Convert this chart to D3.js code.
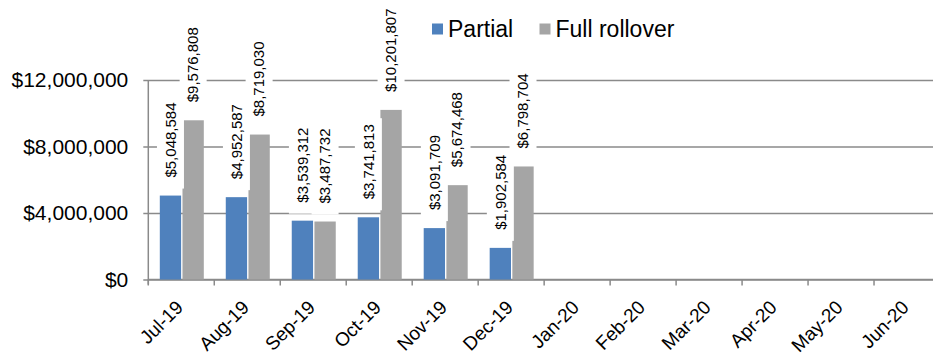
<!DOCTYPE html>
<html>
<head>
<meta charset="utf-8">
<script src="https://cdn.jsdelivr.net/npm/d3@7"></script>
<style>
  html, body { margin: 0; padding: 0; background: #fff; }
  svg { display: block; font-family: "Liberation Sans", Arial, sans-serif; }
</style>
</head>
<body>
<svg id="chart" width="933" height="357"></svg>
<script>
// Monthly rollover amounts, FY Jul-19 to Jun-20
const months = ["Jul-19", "Aug-19", "Sep-19", "Oct-19", "Nov-19", "Dec-19",
                "Jan-20", "Feb-20", "Mar-20", "Apr-20", "May-20", "Jun-20"];
const seriesNames = ["Partial", "Full rollover"];
const partial = [5048584, 4952587, 3539312, 3741813, 3091709, 1902584,
                 null, null, null, null, null, null];
const fullRollover = [9576808, 8719030, 3487732, 10201807, 5674468, 6798704,
                      null, null, null, null, null, null];
const yTicks = [0, 4000000, 8000000, 12000000];
const colors = ["#4F81BD", "#A5A5A5"];

const svg = d3.select("#chart");
const plot = { left: 148.3, right: 940, top: 80, bottom: 279.5 };

const x0 = d3.scaleBand().domain(months).range([plot.left, plot.right]).padding(0);
const x1 = d3.scaleBand().domain(seriesNames).range([11.5, 55.5]).paddingInner(0.06);
const y = d3.scaleLinear().domain([0, 12000000]).range([plot.bottom, plot.top]);

const money = v => "$" + d3.format(",")(v);
const gridColor = "#8a8a8a";

// Horizontal gridlines with short outside tick marks
const yAxis = d3.axisLeft(y).tickValues(yTicks).tickFormat(money)
  .tickSize(-(plot.right - plot.left)).tickPadding(20);
const gy = svg.append("g").attr("transform", `translate(${plot.left},0)`).call(yAxis);
gy.select(".domain").remove();
gy.selectAll(".tick line").attr("stroke", gridColor).attr("stroke-width", 1.5)
  .attr("x1", -5);
gy.selectAll(".tick text").attr("font-size", 21).attr("fill", "#000")
  .attr("font-family", "Liberation Sans, Arial, sans-serif");

// Vertical axis line
svg.append("line")
  .attr("x1", plot.left).attr("x2", plot.left)
  .attr("y1", plot.top).attr("y2", plot.bottom + 5)
  .attr("stroke", gridColor).attr("stroke-width", 1.5);

// Category axis: tick marks at band edges
const gx = svg.append("g").attr("transform", `translate(0,${plot.bottom})`);
months.forEach(m => {
  gx.append("line")
    .attr("x1", x0(m)).attr("x2", x0(m))
    .attr("y1", 0).attr("y2", 6)
    .attr("stroke", gridColor).attr("stroke-width", 1.5);
});
gx.append("line")
  .attr("x1", plot.left).attr("x2", plot.right)
  .attr("y1", 0).attr("y2", 0)
  .attr("stroke", gridColor).attr("stroke-width", 1.5);

svg.append("g").selectAll("text").data(months).join("text")
  .attr("transform", d => `translate(${x0(d) + x0.bandwidth() / 2 + 3},${plot.bottom + 29}) rotate(-45)`)
  .attr("text-anchor", "end")
  .attr("font-size", 19)
  .attr("fill", "#000")
  .text(d => d);

// Bars
const rows = months.map((m, i) => ({ month: m, values: [partial[i], fullRollover[i]] }));
const groups = svg.append("g").selectAll("g").data(rows).join("g")
  .attr("transform", d => `translate(${x0(d.month)},0)`);

groups.selectAll("rect")
  .data(d => d.values.map((v, k) => ({ name: seriesNames[k], value: v, k }))
    .filter(e => e.value != null))
  .join("rect")
  .attr("x", d => x1(d.name))
  .attr("width", x1.bandwidth())
  .attr("y", d => y(d.value))
  .attr("height", d => y(0) - y(d.value))
  .attr("fill", d => colors[d.k]);

// Value labels, rotated, on white boxes
const labels = svg.append("g");
rows.forEach(r => {
  r.values.forEach((v, k) => {
    if (v == null) return;
    const cx = x0(r.month) + x1(seriesNames[k]) + x1.bandwidth() / 2;
    const top = y(v);
    const g = labels.append("g")
      .attr("transform", `translate(${cx},${top - 18}) rotate(-90)`);
    const t = g.append("text")
      .attr("x", 0).attr("y", 0).attr("dy", "0.35em")
      .attr("text-anchor", "start")
      .attr("font-size", 15)
      .attr("fill", "#000")
      .text(money(v));
    const w = t.node().getComputedTextLength();
    g.insert("rect", "text")
      .attr("x", -11).attr("y", -13.5)
      .attr("width", w + 17).attr("height", 27)
      .attr("fill", "#fff");
  });
});

// Legend
const legend = svg.append("g");
const legendItems = [
  { name: seriesNames[0], color: colors[0], x: 432 },
  { name: seriesNames[1], color: colors[1], x: 539.5 }
];
legendItems.forEach(it => {
  legend.append("rect")
    .attr("x", it.x).attr("y", 23.5).attr("width", 11).attr("height", 11)
    .attr("fill", it.color);
  legend.append("text")
    .attr("x", it.x + 16).attr("y", 36.7)
    .attr("font-size", 23)
    .attr("fill", "#000")
    .text(it.name);
});
</script>
</body>
</html>
